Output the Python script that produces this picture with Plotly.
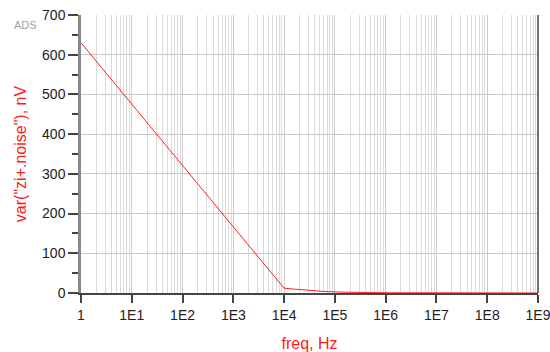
import plotly.graph_objects as go

# Noise variance vs. frequency
freq_hz = [1, 10, 100, 1000, 10000, 15000, 30000, 60000, 150000, 1.2e6, 1e9]
noise_var_nv = [630, 475, 321, 166, 12, 10, 7, 4, 2, 0.5, 0]

x_tick_vals = [1, 1e1, 1e2, 1e3, 1e4, 1e5, 1e6, 1e7, 1e8, 1e9]
x_tick_text = ["1", "1E1", "1E2", "1E3", "1E4", "1E5", "1E6", "1E7", "1E8", "1E9"]
y_tick_vals = [0, 100, 200, 300, 400, 500, 600, 700]

font_family = "Liberation Sans, Arial, sans-serif"

fig = go.Figure()
fig.add_trace(go.Scatter(
    x=freq_hz, y=noise_var_nv, mode="lines",
    line=dict(color="#ff2020", width=1),
    showlegend=False,
))

fig.update_layout(
    width=550, height=352,
    margin=dict(l=81, r=12, t=15, b=59),
    paper_bgcolor="white", plot_bgcolor="white",
    font=dict(family=font_family, size=14, color="#222222"),
    xaxis=dict(
        type="log", range=[0, 9], automargin=False,
        tickvals=x_tick_vals, ticktext=x_tick_text,
        ticklabeloverflow="allow",
        ticks="outside", ticklen=8, tickwidth=1.5, tickcolor="#444444",
        showgrid=True, gridcolor="#cccccc", gridwidth=1,
        minor=dict(dtick="D1", showgrid=True, gridcolor="#dadada", gridwidth=1, ticks=""),
        showline=True, linecolor="#444444", linewidth=1.5,
        mirror=False, zeroline=False,
        title=dict(text="freq, Hz", font=dict(color="#ff1a1a", size=16), standoff=23),
    ),
    yaxis=dict(
        range=[0, 700], automargin=False,
        tickvals=y_tick_vals,
        ticks="outside", ticklen=10, tickwidth=1.5, tickcolor="#444444",
        showgrid=True, gridcolor="#c8c8c8", gridwidth=1,
        minor=dict(dtick=50, ticks="outside", ticklen=6, tickwidth=1.5,
                   tickcolor="#444444", showgrid=False),
        showline=True, linecolor="#888888", linewidth=2.5,
        zeroline=False,
        title=dict(text='var("zi+.noise"), nV', font=dict(color="#ff1a1a", size=16), standoff=12),
    ),
    annotations=[
        dict(text="ADS", x=-69 / 457, y=1 - 10 / 278, xref="paper", yref="paper",
             showarrow=False, font=dict(size=11, color="#a0a0a0"),
             xanchor="left", yanchor="middle"),
    ],
    shapes=[
        # right frame line at the upper end of the frequency axis
        dict(type="line", xref="paper", yref="paper", x0=1, x1=1, y0=0, y1=1,
             line=dict(color="#444444", width=1.5)),
    ],
)

fig.write_html("out.html")
